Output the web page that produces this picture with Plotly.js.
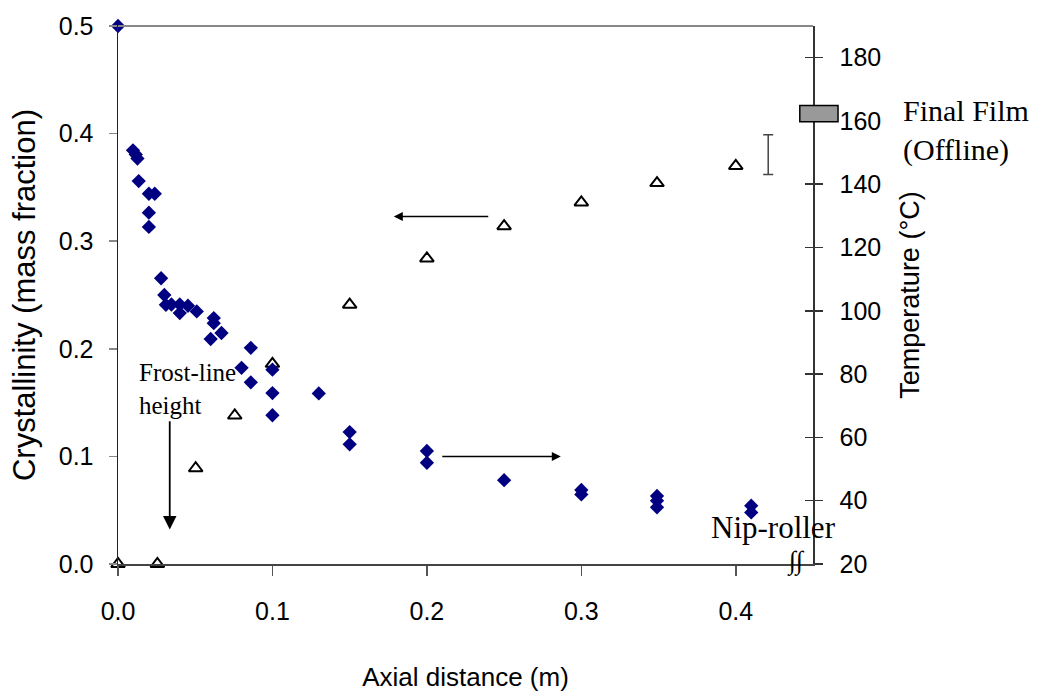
<!DOCTYPE html>
<html><head><meta charset="utf-8">
<script src="https://cdn.plot.ly/plotly-3.0.1.min.js"></script>
<style>html,body{margin:0;padding:0;background:#fff}#chart{width:1041px;height:698px}</style>
</head><body><div id="chart"></div>
<script>
// Temperature (°C, right axis) – filled diamonds
const tempX = [0, 0.0097, 0.0115, 0.0126, 0.0134, 0.020, 0.0238, 0.020, 0.020, 0.0279, 0.030, 0.031, 0.0346, 0.040, 0.040, 0.0453, 0.051, 0.062, 0.062, 0.060, 0.067, 0.086, 0.080, 0.086, 0.100, 0.100, 0.100, 0.130, 0.150, 0.150, 0.200, 0.200, 0.250, 0.300, 0.300, 0.349, 0.349, 0.349, 0.410, 0.410];
const tempC = [190, 150.7, 149.4, 148.1, 141, 137, 137, 131, 126.5, 110.3, 105, 101.9, 102, 102, 99.3, 101.6, 99.8, 97.7, 96.1, 91.1, 93, 88.3, 82, 77.4, 81.4, 74, 67, 73.9, 61.7, 57.8, 55.7, 52, 46.5, 43.4, 42, 41.5, 40, 37.9, 38.4, 36.3];
// Crystallinity (mass fraction, left axis) – open triangles
const crystX = [0, 0.0255, 0.0503, 0.0756, 0.100, 0.150, 0.200, 0.250, 0.300, 0.349, 0.400];
const crystFrac = [0, 0, 0.089, 0.138, 0.186, 0.241, 0.284, 0.314, 0.336, 0.354, 0.370];
// Final film (offline) spread (error bar) and box
const finalErrX = [0.421];
const finalErrMid = [0.3805];
const finalErrHalf = [0.0185];
const finalFilmBox = [0.411, 0.426];
// Ticks
const xTickVals = [0, 0.1, 0.2, 0.3, 0.4];
const yTickVals = [0, 0.1, 0.2, 0.3, 0.4, 0.5];
const y2TickVals = [20, 40, 60, 80, 100, 120, 140, 160, 180];
// Annotation arrows (data coordinates)
const crystArrow = {tipX: 0.1786, tailX: 0.2407, y: 0.3229};
const tempArrow = {tipX: 0.2867, tailX: 0.2090, y: 53.95};
const frostArrow = {x: 0.0335, tipY: 0.032, tailY: 0.134};

const SANS = '"Liberation Sans", Arial, sans-serif';
const SERIF = '"Liberation Serif", "Times New Roman", serif';

const traces = [
  {x: crystX, y: crystFrac, yaxis: 'y', type: 'scatter', mode: 'markers', cliponaxis: false,
   marker: {symbol: 'triangle-up-open', size: 12, color: '#000', line: {width: 2, color: '#000'}}},
  {x: finalErrX, y: finalErrMid, yaxis: 'y', type: 'scatter', mode: 'markers', cliponaxis: false,
   marker: {size: 1, opacity: 0},
   error_y: {type: 'data', array: finalErrHalf, visible: true, color: '#444', thickness: 1.5, width: 5}},
  {x: tempX, y: tempC, yaxis: 'y2', type: 'scatter', mode: 'markers', cliponaxis: false,
   marker: {symbol: 'diamond', size: 11, color: '#000080', line: {width: 0}}},
  {x: [], y: [], yaxis: 'y3', type: 'scatter', mode: 'markers', hoverinfo: 'skip'}
];

const tickFont = {family: SANS, size: 25, color: '#000'};

const layout = {
  width: 1041, height: 698,
  margin: {l: 118, r: 228, t: 26, b: 134, pad: 0},
  paper_bgcolor: '#fff', plot_bgcolor: '#fff',
  showlegend: false,
  xaxis: {
    range: [0, 0.45], tickvals: xTickVals, tickformat: '.1f',
    ticks: 'outside', ticklen: 10, tickwidth: 1.5, tickcolor: '#555',
    showline: true, linecolor: '#444', linewidth: 1.5,
    showgrid: false, zeroline: false, tickfont: tickFont, ticklabelstandoff: 14,
    title: {text: 'Axial distance (m)', font: {family: SANS, size: 26, color: '#000'}, standoff: 44}
  },
  yaxis: {
    range: [0, 0.5], tickvals: yTickVals, tickformat: '.1f',
    ticks: 'outside', ticklen: 8, tickwidth: 1.5, tickcolor: '#888',
    showline: true, linecolor: '#222', linewidth: 1.5,
    showgrid: false, zeroline: false, tickfont: tickFont, ticklabelstandoff: 10,
    title: {text: 'Crystallinity (mass fraction)', font: {family: SANS, size: 31, color: '#000'}, standoff: 14}
  },
  yaxis2: {
    overlaying: 'y', side: 'right', anchor: 'x',
    range: [20, 190], tickvals: y2TickVals,
    ticks: 'outside', ticklen: 8, tickwidth: 1.5, tickcolor: '#333',
    showline: true, linecolor: '#333', linewidth: 1.5,
    showgrid: false, zeroline: false, tickfont: tickFont, ticklabelstandoff: 12,
    title: {text: 'Temperature (°C)', font: {family: SANS, size: 27, color: '#000'}, standoff: 20}
  },
  yaxis3: {
    overlaying: 'y', side: 'right', anchor: 'x',
    range: [20, 190], tickvals: y2TickVals,
    ticks: 'inside', ticklen: 8, tickwidth: 1.5, tickcolor: '#333',
    showline: false, showgrid: false, zeroline: false, showticklabels: false
  },
  shapes: [
    {type: 'line', xref: 'paper', yref: 'paper', x0: 0, x1: 1, y0: 1, y1: 1,
     line: {color: '#888', width: 2}},
    {type: 'rect', xref: 'paper', yref: 'y', x0: 0.981, x1: 1.036,
     y0: finalFilmBox[0], y1: finalFilmBox[1], fillcolor: '#999', layer: 'above',
     line: {color: '#000', width: 1.5}}
  ],
  annotations: [
    {xref: 'paper', yref: 'paper', x: 1.127, y: 0.806, xanchor: 'left', yanchor: 'middle', align: 'left',
     text: 'Final Film<br>(Offline)', showarrow: false, font: {family: SERIF, size: 30, color: '#000'}},
    {xref: 'paper', yref: 'paper', x: 0.027, y: 0.325, xanchor: 'left', yanchor: 'middle', align: 'left',
     text: 'Frost-line<br>height', showarrow: false, font: {family: SERIF, size: 25, color: '#000'}},
    {xref: 'paper', yref: 'paper', x: 1.036, y: 0.067, xanchor: 'right', yanchor: 'middle', align: 'right',
     text: 'Nip-roller', showarrow: false, font: {family: SERIF, size: 31, color: '#000'}},
    {xref: 'paper', yref: 'paper', x: 0.976, y: 0.005, xanchor: 'center', yanchor: 'middle',
     text: '∫∫', showarrow: false, font: {family: SERIF, size: 26, color: '#000'}},
    {xref: 'x', yref: 'y', axref: 'x', ayref: 'y', x: crystArrow.tipX, y: crystArrow.y,
     ax: crystArrow.tailX, ay: crystArrow.y, text: '', showarrow: true,
     arrowhead: 2, arrowsize: 1.2, arrowwidth: 1.5, arrowcolor: '#000'},
    {xref: 'x', yref: 'y2', axref: 'x', ayref: 'y2', x: tempArrow.tipX, y: tempArrow.y,
     ax: tempArrow.tailX, ay: tempArrow.y, text: '', showarrow: true,
     arrowhead: 2, arrowsize: 1.2, arrowwidth: 1.5, arrowcolor: '#000'},
    {xref: 'x', yref: 'y', axref: 'x', ayref: 'y', x: frostArrow.x, y: frostArrow.tipY,
     ax: frostArrow.x, ay: frostArrow.tailY, text: '', showarrow: true,
     arrowhead: 2, arrowsize: 1.5, arrowwidth: 1.8, arrowcolor: '#000'}
  ]
};

Plotly.newPlot('chart', traces, layout, {displayModeBar: false, staticPlot: true});
</script>
</body></html>
